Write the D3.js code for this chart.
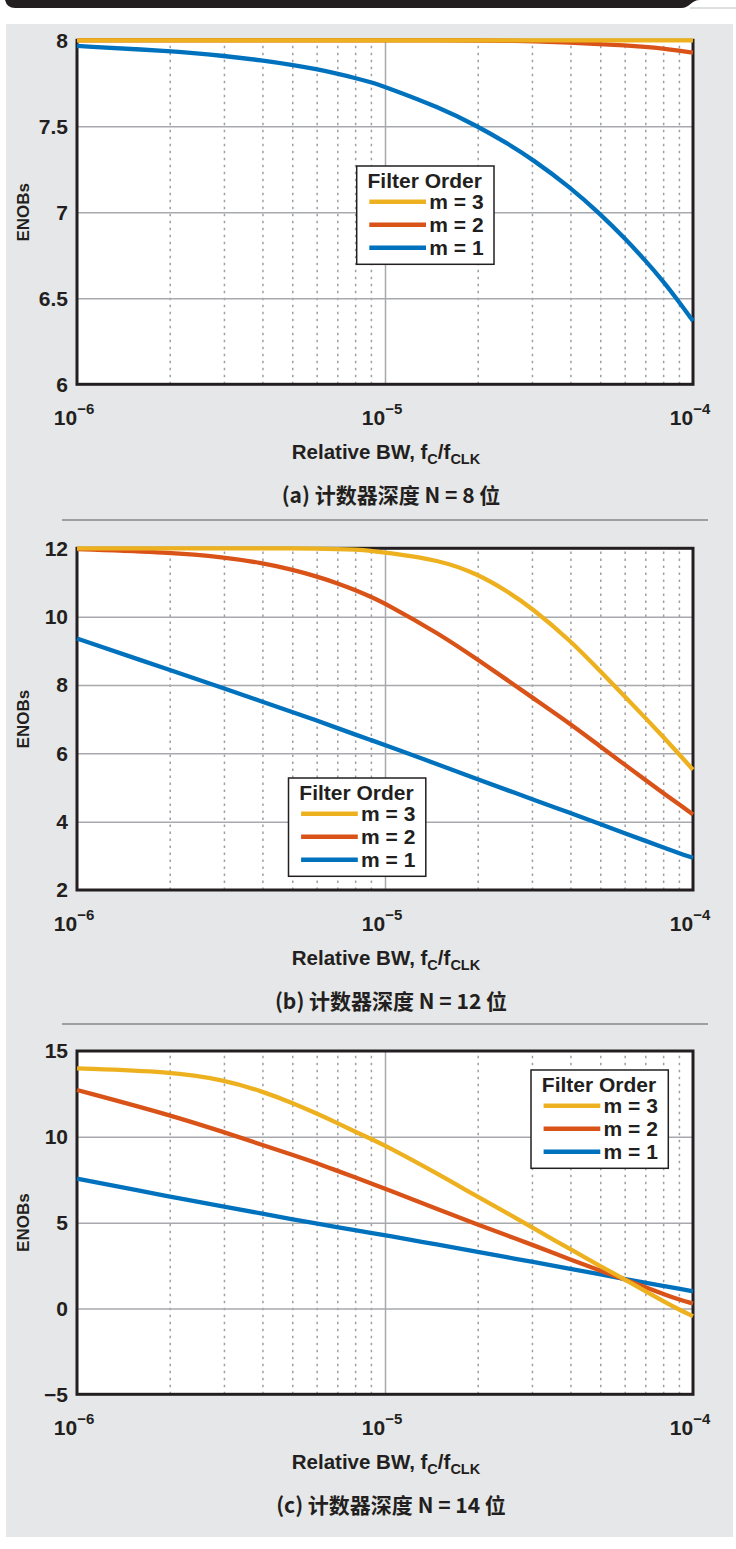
<!DOCTYPE html>
<html>
<head>
<meta charset="utf-8">
<script src="https://cdn.jsdelivr.net/npm/d3@7/dist/d3.min.js"></script>
<style>
  body { margin: 0; background: #ffffff; }
  text { font-family: "Liberation Sans", Arial, sans-serif; font-weight: bold; fill: #231f20; }
  .caption { font-family: "Noto Sans CJK SC", "Noto Sans", sans-serif; font-weight: bold; }
</style>
</head>
<body>
<div id="svgWrapper"></div>
<script>
var fullWidth = 736;
var fullHeight = 1549;

var bwPoints = [1e-6, 2e-6, 3e-6, 4e-6, 5e-6, 6e-6, 7e-6, 8e-6, 9e-6,
                1e-5, 1.5e-5, 2e-5, 2.5e-5, 3e-5, 4e-5, 5e-5, 6e-5, 7e-5, 8e-5, 9e-5, 1e-4];

var xTickValues = [1e-6, 1e-5, 1e-4];
var xTickExps = ["\u22126", "\u22125", "\u22124"];
var minorTicks = [2e-6, 3e-6, 4e-6, 5e-6, 6e-6, 7e-6, 8e-6, 9e-6,
                  2e-5, 3e-5, 4e-5, 5e-5, 6e-5, 7e-5, 8e-5, 9e-5];

var seriesNames = ["m = 3", "m = 2", "m = 1"];
var seriesColors = ["#EDB120", "#D95319", "#0072BD"];

// (a) N = 8
var enob8_m3 = [8, 8, 8, 8, 8, 8, 8, 8, 8, 8, 8, 8, 8, 8, 8, 8, 8, 8, 8, 8, 7.999];
var enob8_m2 = [8, 8, 8, 8, 8, 8, 8, 8, 8, 8, 8, 7.999, 7.997, 7.994, 7.987, 7.978, 7.971, 7.962, 7.952, 7.94, 7.928];
var enob8_m1 = [7.967, 7.938, 7.91, 7.883, 7.857, 7.832, 7.806, 7.781, 7.756, 7.73,
                7.61, 7.5, 7.4, 7.31, 7.145, 6.99, 6.85, 6.72, 6.6, 6.48, 6.368];
var yTicks8 = [6, 6.5, 7, 7.5, 8];

// (b) N = 12
var enob12_m3 = [12, 12, 12, 12, 11.995, 11.99, 11.98, 11.96, 11.93, 11.88,
                 11.66, 11.25, 10.74, 10.25, 9.3, 8.4, 7.67, 7.04, 6.48, 5.98, 5.52];
var enob12_m2 = [11.98, 11.88, 11.74, 11.57, 11.38, 11.18, 10.98, 10.78, 10.58, 10.39,
                 9.5, 8.74, 8.14, 7.64, 6.86, 6.2, 5.67, 5.22, 4.84, 4.51, 4.21];
var enob12_m1 = [9.36, 8.44, 7.9, 7.51, 7.21, 6.96, 6.74, 6.55, 6.39, 6.24,
                 5.66, 5.24, 4.92, 4.66, 4.25, 3.93, 3.66, 3.44, 3.25, 3.08, 2.94];
var yTicks12 = [2, 4, 6, 8, 10, 12];

// (c) N = 14
var enob14_m3 = [13.99, 13.8, 13.32, 12.65, 11.98, 11.36, 10.8, 10.3, 9.88, 9.5,
                 7.8, 6.5, 5.55, 4.72, 3.45, 2.47, 1.69, 1.01, 0.43, -0.06, -0.45];
var enob14_m2 = [12.73, 11.28, 10.27, 9.53, 8.95, 8.47, 8.02, 7.64, 7.29, 6.98,
                 5.75, 4.88, 4.24, 3.72, 2.85, 2.21, 1.69, 1.24, 0.85, 0.52, 0.29];
var enob14_m1 = [7.56, 6.52, 5.93, 5.52, 5.2, 4.95, 4.74, 4.56, 4.4, 4.27,
                 3.7, 3.3, 2.98, 2.72, 2.31, 1.99, 1.71, 1.5, 1.31, 1.15, 1.0];
var yTicks14 = [-5, 0, 5, 10, 15];

var captions = ["(a) 计数器深度 N = 8 位", "(b) 计数器深度 N = 12 位", "(c) 计数器深度 N = 14 位"];

// panel layout
var panels = [
  { top: 40.3, bottom: 384.3, domain: [6, 8], ticks: yTicks8,
    series: [enob8_m1, enob8_m2, enob8_m3], legendX: 356.7, legendY: 166, caption: captions[0] },
  { top: 548.3, bottom: 890, domain: [2, 12], ticks: yTicks12,
    series: [enob12_m1, enob12_m2, enob12_m3], legendX: 288.5, legendY: 778, caption: captions[1] },
  { top: 1051, bottom: 1394.3, domain: [-5, 15], ticks: yTicks14,
    series: [enob14_m1, enob14_m2, enob14_m3], legendX: 531, legendY: 1070, caption: captions[2] }
];

var xLeft = 77, xRight = 693;
var xScale = d3.scaleLog().domain([1e-6, 1e-4]).range([xLeft, xRight]);

var svg = d3.select("#svgWrapper")
  .append("svg")
  .attr("width", fullWidth)
  .attr("height", fullHeight);

// page background, header tab and grey panel
svg.append("rect").attr("width", fullWidth).attr("height", fullHeight).attr("fill", "#ffffff");
svg.append("path")
  .attr("d", "M5,0 H700 C691,0 690,8 681,8 H15 Q7,8 5,0 Z")
  .attr("fill", "#231f20");
svg.append("line")
  .attr("x1", 690).attr("x2", 736).attr("y1", 8).attr("y2", 8)
  .attr("stroke", "#bcbec0").attr("stroke-width", 1);
svg.append("rect")
  .attr("x", 6).attr("y", 24).attr("width", 727).attr("height", 1513)
  .attr("fill", "#e6e7e8");

// dividers between the three plots
[520, 1024].forEach(function(y) {
  svg.append("line")
    .attr("x1", 62).attr("x2", 708).attr("y1", y).attr("y2", y)
    .attr("stroke", "#58595b").attr("stroke-width", 1.2);
});

function drawPanel(p) {
  var g = svg.append("g");
  var yScale = d3.scaleLinear().domain(p.domain).range([p.bottom, p.top]);
  var h = p.bottom - p.top;

  // white plotting area
  g.append("rect")
    .attr("x", xLeft).attr("y", p.top)
    .attr("width", xRight - xLeft).attr("height", h)
    .attr("fill", "#ffffff");

  // minor dotted grid
  g.append("g")
    .attr("transform", "translate(0," + p.bottom + ")")
    .call(d3.axisBottom(xScale).tickValues(minorTicks).tickSize(-h).tickFormat(""))
    .call(function(a) {
      a.select(".domain").remove();
      a.selectAll("line").attr("stroke", "#9d9fa2").attr("stroke-width", 1.5)
        .attr("stroke-dasharray", "2.5,4.5");
    });

  // major grid
  g.append("g")
    .attr("transform", "translate(0," + p.bottom + ")")
    .call(d3.axisBottom(xScale).tickValues([1e-5]).tickSize(-h).tickFormat(""))
    .call(function(a) {
      a.select(".domain").remove();
      a.selectAll("line").attr("stroke", "#a7a9ac").attr("stroke-width", 1.5);
    });
  g.append("g")
    .attr("transform", "translate(" + xLeft + ",0)")
    .call(d3.axisLeft(yScale).tickValues(p.ticks.slice(1, -1)).tickSize(-(xRight - xLeft)).tickFormat(""))
    .call(function(a) {
      a.select(".domain").remove();
      a.selectAll("line").attr("stroke", "#a7a9ac").attr("stroke-width", 1.5);
    });

  // frame
  g.append("rect")
    .attr("x", xLeft).attr("y", p.top)
    .attr("width", xRight - xLeft).attr("height", h)
    .attr("fill", "none").attr("stroke", "#231f20").attr("stroke-width", 3);

  // y tick labels
  g.append("g")
    .attr("transform", "translate(" + xLeft + ",0)")
    .call(d3.axisLeft(yScale).tickValues(p.ticks).tickSize(0).tickPadding(9)
      .tickFormat(function(d) { return d < 0 ? "\u2212" + Math.abs(d) : String(d); }))
    .call(function(a) {
      a.select(".domain").remove();
      a.selectAll("text").attr("fill", "#231f20").style("font-size", "21px")
        .style("font-family", "'Liberation Sans', Arial, sans-serif").style("font-weight", "bold");
    });

  // x tick labels 10^n
  xTickValues.forEach(function(v, i) {
    var t = g.append("text")
      .attr("x", xScale(v) - 3)
      .attr("y", p.bottom + 41)
      .style("text-anchor", "middle")
      .style("font-size", "21px");
    t.append("tspan").text("10");
    t.append("tspan").attr("dy", -11).style("font-size", "15px").text(xTickExps[i]);
  });

  // x axis title
  var xt = g.append("text")
    .attr("x", 386).attr("y", p.bottom + 75)
    .style("text-anchor", "middle")
    .style("font-size", "20.5px");
  xt.append("tspan").text("Relative BW, f");
  xt.append("tspan").attr("dy", 5).style("font-size", "14.5px").text("C");
  xt.append("tspan").attr("dy", -5).text("/f");
  xt.append("tspan").attr("dy", 5).style("font-size", "14.5px").text("CLK");

  // y axis title
  g.append("text")
    .attr("transform", "translate(29," + (p.top + h / 2) + ") rotate(270)")
    .style("text-anchor", "middle")
    .style("font-size", "17px")
    .text("ENOBs");

  // curves, m = 1 first so m = 3 ends on top
  var line = d3.line()
    .x(function(d, i) { return xScale(bwPoints[i]); })
    .y(function(d) { return yScale(d); })
    .curve(d3.curveBasis);

  p.series.forEach(function(s, i) {
    g.append("path")
      .attr("d", line(s))
      .attr("fill", "none")
      .attr("stroke", seriesColors[2 - i])
      .attr("stroke-width", 4.3);
  });

  // legend
  var lg = g.append("g").attr("transform", "translate(" + p.legendX + "," + p.legendY + ")");
  lg.append("rect")
    .attr("width", 137.3).attr("height", 98.3)
    .attr("fill", "#ffffff").attr("stroke", "#231f20").attr("stroke-width", 1.5);
  lg.append("text")
    .attr("x", 68).attr("y", 21.5)
    .style("text-anchor", "middle")
    .style("font-size", "21px")
    .text("Filter Order");
  seriesNames.forEach(function(name, k) {
    var ly = 35.7 + 23 * k;
    lg.append("line")
      .attr("x1", 12.6).attr("x2", 69.3).attr("y1", ly).attr("y2", ly)
      .attr("stroke", seriesColors[k]).attr("stroke-width", 4.5);
    lg.append("text")
      .attr("x", 72.6).attr("y", ly + 7.3)
      .style("font-size", "21px")
      .text(name);
  });

  // caption
  g.append("text")
    .attr("class", "caption")
    .attr("x", 391).attr("y", p.bottom + 119)
    .style("text-anchor", "middle")
    .style("font-size", "21px")
    .text(p.caption);
}

panels.forEach(drawPanel);
</script>
</body>
</html>
